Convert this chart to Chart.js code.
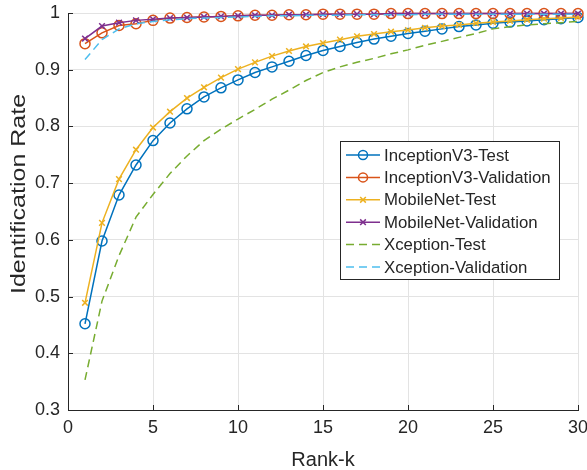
<!DOCTYPE html>
<html>
<head>
<meta charset="utf-8">
<script src="https://cdn.jsdelivr.net/npm/chart.js@4.4.1/dist/chart.umd.min.js"></script>
<style>
  html, body { margin: 0; padding: 0; background: #ffffff; }
  #wrap { width: 587px; height: 470px; }
</style>
</head>
<body>
<div id="wrap"><canvas id="c" width="587" height="470"></canvas></div>
<script>
// ---- data ----
const ranks = [1,2,3,4,5,6,7,8,9,10,11,12,13,14,15,16,17,18,19,20,21,22,23,24,25,26,27,28,29,30];

const inceptionTest = [0.452,0.598,0.679,0.732,0.775,0.806,0.831,0.852,0.868,0.882,
                       0.895,0.905,0.915,0.925,0.934,0.941,0.948,0.954,0.959,0.964,
                       0.968,0.972,0.976,0.979,0.982,0.984,0.986,0.988,0.990,0.992];
const inceptionVal  = [0.946,0.965,0.978,0.981,0.987,0.991,0.992,0.993,0.994,0.995,
                       0.996,0.996,0.997,0.997,0.998,0.998,0.998,0.998,0.999,0.999,
                       0.999,0.999,0.999,0.999,0.999,0.999,0.999,0.999,0.999,0.999];
const mobileTest    = [0.489,0.630,0.707,0.759,0.798,0.826,0.850,0.869,0.886,0.901,
                       0.913,0.924,0.933,0.941,0.947,0.953,0.959,0.963,0.967,0.970,
                       0.974,0.977,0.979,0.982,0.984,0.986,0.988,0.990,0.991,0.993];
const mobileVal     = [0.955,0.977,0.983,0.987,0.989,0.991,0.992,0.993,0.994,0.995,
                       0.996,0.996,0.997,0.997,0.998,0.998,0.998,0.998,0.999,0.999,
                       0.999,0.999,0.999,0.999,0.999,0.999,0.999,0.999,0.999,0.999];
const xceptionTest  = [0.353,0.492,0.572,0.640,0.680,0.717,0.748,0.775,0.795,0.813,
                       0.830,0.848,0.864,0.881,0.895,0.905,0.913,0.920,0.928,0.935,
                       0.943,0.950,0.957,0.964,0.972,0.976,0.979,0.981,0.983,0.985];
const xceptionVal   = [0.918,0.953,0.972,0.981,0.985,0.988,0.990,0.991,0.992,0.993,
                       0.994,0.995,0.995,0.996,0.996,0.996,0.997,0.997,0.997,0.997,
                       0.998,0.998,0.998,0.998,0.998,0.998,0.998,0.998,0.998,0.998];

const seriesNames = ['InceptionV3-Test','InceptionV3-Validation','MobileNet-Test',
                     'MobileNet-Validation','Xception-Test','Xception-Validation'];
const xTicks = [0,5,10,15,20,25,30];
const yTicks = [0.3,0.4,0.5,0.6,0.7,0.8,0.9,1];
const xTitle = 'Rank-k';
const yTitle = 'Identification Rate';

// ---- styles ----
const FONT = '"Liberation Sans", Arial, Helvetica, sans-serif';
const TXT = '#262626';
const styles = [
  {color:'#0072BD', marker:'circle',   dash:[]},
  {color:'#D95319', marker:'circle',   dash:[]},
  {color:'#EDB120', marker:'crossRot', dash:[]},
  {color:'#7E2F8E', marker:'crossRot', dash:[]},
  {color:'#77AC30', marker:false,      dash:[8,5]},
  {color:'#4DBEEE', marker:false,      dash:[8,5]}
];
const allValues = [inceptionTest, inceptionVal, mobileTest, mobileVal, xceptionTest, xceptionVal];

const datasets = allValues.map((vals, i) => {
  const s = styles[i];
  return {
    label: seriesNames[i],
    data: ranks.map((r, k) => ({x: r, y: vals[k]})),
    borderColor: s.color,
    backgroundColor: 'rgba(0,0,0,0)',
    borderWidth: 1.5,
    borderDash: s.dash,
    pointStyle: s.marker || 'circle',
    pointRadius: s.marker ? (s.marker === 'circle' ? 5 : 4) : 0,
    pointBorderColor: s.color,
    pointBackgroundColor: 'rgba(0,0,0,0)',
    pointBorderWidth: 1.5,
    tension: 0,
    fill: false,
    clip: false,
    order: 5 - i
  };
});

// inward ticks plugin + y title
const inwardTicks = {
  id: 'inwardTicks',
  beforeDatasetsDraw(chart) {
    const {ctx, chartArea: a, scales: {x, y}} = chart;
    ctx.save();
    ctx.strokeStyle = TXT;
    ctx.lineWidth = 1;
    ctx.beginPath();
    xTicks.forEach(v => {
      const px = Math.round(x.getPixelForValue(v)) + 0.5;
      ctx.moveTo(px, a.bottom); ctx.lineTo(px, a.bottom - 5);
    });
    yTicks.forEach(v => {
      const py = Math.round(y.getPixelForValue(v)) + 0.5;
      ctx.moveTo(a.left, py); ctx.lineTo(a.left + 5, py);
    });
    ctx.stroke();
    ctx.restore();
  },
  afterDraw(chart) {
    const ctx = chart.ctx;
    ctx.save();
    ctx.translate(19.7, 194);
    ctx.rotate(-Math.PI / 2);
    ctx.scale(1.25, 1);
    ctx.fillStyle = TXT;
    ctx.font = '20px ' + FONT;
    ctx.textAlign = 'center';
    ctx.textBaseline = 'middle';
    ctx.fillText(yTitle, 0, 0);
    ctx.restore();
  }
};

function drawMarker(ctx, type, cx, cy, r) {
  ctx.beginPath();
  if (type === 'circle') {
    ctx.arc(cx, cy, r, 0, Math.PI * 2);
  } else if (type === 'crossRot') {
    const d = r * Math.SQRT1_2;
    ctx.moveTo(cx - d, cy - d); ctx.lineTo(cx + d, cy + d);
    ctx.moveTo(cx - d, cy + d); ctx.lineTo(cx + d, cy - d);
  }
  ctx.stroke();
}

// legend plugin
const boxLegend = {
  id: 'boxLegend',
  afterDraw(chart) {
    const ctx = chart.ctx;
    const L = 340, T = 141, W = 219, H = 138;
    ctx.save();
    ctx.fillStyle = '#ffffff';
    ctx.fillRect(L, T, W, H);
    ctx.strokeStyle = '#262626';
    ctx.lineWidth = 1;
    ctx.strokeRect(L + 0.5, T + 0.5, W, H);
    chart.data.datasets.forEach((ds, i) => {
      const s = styles[i];
      const cy = 155 + i * 22.4;
      ctx.strokeStyle = s.color;
      ctx.lineWidth = 1.5;
      ctx.setLineDash(s.dash);
      ctx.beginPath();
      ctx.moveTo(346, cy); ctx.lineTo(380, cy);
      ctx.stroke();
      ctx.setLineDash([]);
      if (s.marker) drawMarker(ctx, s.marker, 363, cy, s.marker === 'circle' ? 4.5 : 4);
      ctx.fillStyle = TXT;
      ctx.font = '16.8px ' + FONT;
      ctx.textBaseline = 'middle';
      ctx.textAlign = 'left';
      ctx.fillText(ds.label, 384, cy + 1);
    });
    ctx.restore();
  }
};

new Chart(document.getElementById('c'), {
  type: 'line',
  data: {datasets},
  options: {
    responsive: false,
    animation: false,
    devicePixelRatio: 1,
    layout: {padding: {top: 13, right: 9, left: 0, bottom: 0}},
    plugins: {legend: {display: false}, tooltip: {enabled: false}},
    scales: {
      x: {
        type: 'linear', min: 0, max: 30,
        afterBuildTicks(s) { s.ticks = xTicks.map(v => ({value: v})); },
        ticks: {color: TXT, font: {family: FONT, size: 18}, padding: 7, maxRotation: 0,
                callback: v => String(v)},
        grid: {color: '#e3e3e3', lineWidth: 1, drawTicks: false},
        border: {color: TXT, width: 1},
        title: {display: true, text: xTitle, color: TXT,
                font: {family: FONT, size: 20, lineHeight: 1}, padding: {top: 0, bottom: 0}},
        afterFit(s) { s.height = 60; s.paddingLeft = 0; s.paddingRight = 0; }
      },
      y: {
        type: 'linear', min: 0.3, max: 1,
        afterBuildTicks(s) { s.ticks = yTicks.map(v => ({value: v})); },
        ticks: {color: TXT, font: {family: FONT, size: 18}, padding: 8,
                callback: v => String(+(+v).toFixed(1))},
        grid: {color: '#e3e3e3', lineWidth: 1, drawTicks: false},
        border: {color: TXT, width: 1},
        title: {display: false, text: yTitle},
        afterFit(s) { s.width = 68; s.paddingTop = 0; s.paddingBottom = 0; }
      }
    }
  },
  plugins: [inwardTicks, boxLegend]
});
</script>
</body>
</html>
